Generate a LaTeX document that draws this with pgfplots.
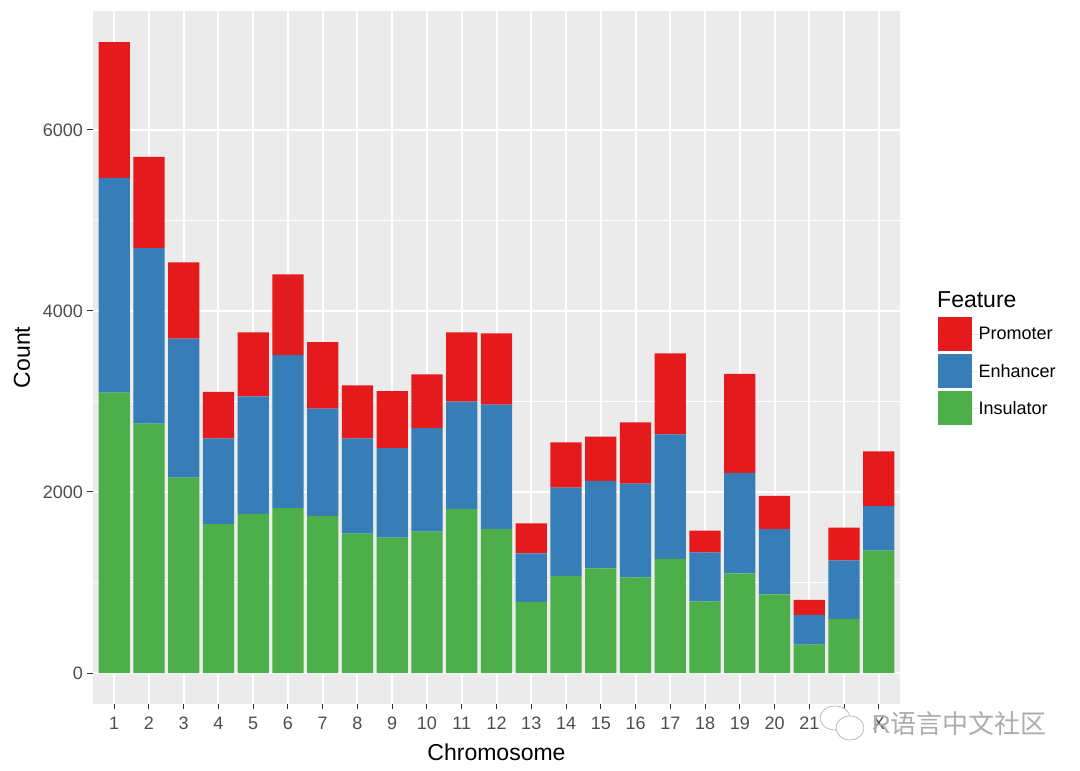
\documentclass[border=0pt]{standalone}
\usepackage{pgfplots}
\pgfplotsset{compat=1.18}
\usepackage{fontspec}
\setmainfont{Liberation Sans}
\newfontfamily\cjk{Noto Sans CJK SC}
\definecolor{pan}{HTML}{EBEBEB}
\definecolor{tl}{HTML}{4D4D4D}
\definecolor{tk}{HTML}{333333}
\definecolor{cr}{HTML}{E41A1C}
\definecolor{cb}{HTML}{377EB8}
\definecolor{cg}{HTML}{4DAF4A}
\begin{document}
\begin{tikzpicture}[x=1pt,y=1pt]
\useasboundingbox (0,0) rectangle (1080,771);
\begin{axis}[
  at={(93pt,67pt)},anchor=south west,
  width=807pt,height=693pt,scale only axis,
  xmin=-0.61,xmax=22.61,ymin=-342.5,ymax=7315,
  ybar stacked,bar width=31.3pt,
  axis background/.style={fill=pan},
  axis line style={draw=none},
  xtick={0,...,22},
  xticklabels={1,2,3,4,5,6,7,8,9,10,11,12,13,14,15,16,17,18,19,20,21,22,X},
  ytick={0,2000,4000,6000},
  minor y tick num=1,
  minor tick length=0pt,
  major tick length=5.5pt,
  tick align=outside,
  xtick pos=bottom,ytick pos=left,
  tick style={draw=tk,line width=1pt},
  grid=both,
  major grid style={draw=white,line width=2pt},
  minor grid style={draw=white,line width=1pt},
  /pgf/number format/assume math mode=true,
  /pgf/number format/1000 sep={},
  tick label style={font=\fontsize{18}{20}\selectfont,text=tl},
  xticklabel style={yshift=-4pt},
  yticklabel style={xshift=-1pt},
  xlabel={Chromosome},ylabel={Count},
  xlabel style={font=\fontsize{23}{26}\selectfont,at={(axis description cs:0.5,0)},anchor=center,yshift=-48pt},
  ylabel style={font=\fontsize{23}{26}\selectfont,at={(axis description cs:0,0.5)},anchor=center,rotate=0,yshift=71pt},
  reverse legend,
  legend cell align=left,
  legend style={draw=none,fill=none,anchor=north west,
    at={(1.0465,0.558)},
    inner sep=0pt,outer sep=0pt,row sep=3pt,
    font=\fontsize{18}{20}\selectfont,
    nodes={inner sep=0pt,outer sep=0pt,minimum height=34pt}},
  legend image code/.code={\fill[#1] (0pt,-17pt) rectangle (34pt,17pt);\path (0pt,0pt) -- (41pt,0pt);},
]
\addplot[fill=cg,draw=none] coordinates {(0,3097)(1,2755)(2,2158)(3,1646)(4,1757)(5,1823)(6,1735)(7,1539)(8,1495)(9,1561)(10,1812)(11,1591)(12,785)(13,1072)(14,1157)(15,1057)(16,1260)(17,792)(18,1101)(19,869)(20,313)(21,597)(22,1351)};
\addlegendentry{Insulator}
\addplot[fill=cb,draw=none] coordinates {(0,2373)(1,1941)(2,1536)(3,947)(4,1300)(5,1691)(6,1186)(7,1054)(8,991)(9,1146)(10,1186)(11,1374)(12,537)(13,976)(14,965)(15,1035)(16,1377)(17,541)(18,1109)(19,722)(20,328)(21,648)(22,494)};
\addlegendentry{Enhancer}
\addplot[fill=cr,draw=none] coordinates {(0,1502)(1,1006)(2,844)(3,512)(4,707)(5,891)(6,736)(7,586)(8,630)(9,593)(10,766)(11,788)(12,332)(13,501)(14,489)(15,678)(16,895)(17,239)(18,1094)(19,365)(20,166)(21,360)(22,604)};
\addlegendentry{Promoter}
\end{axis}
\node[anchor=west,inner sep=0pt,font=\fontsize{23}{26}\selectfont] at (937,471) {Feature};
% watermark
\begin{scope}[line width=0.7pt,draw=gray!60,fill=white]
\filldraw (835,53) ellipse (15pt and 12pt);
\filldraw (850,43) ellipse (14pt and 12pt);
\end{scope}
\node[anchor=west,inner sep=0pt,text=gray!65,font=\fontsize{26}{30}\selectfont] at (872,47) {R\cjk 语言中文社区};
\end{tikzpicture}
\end{document}
